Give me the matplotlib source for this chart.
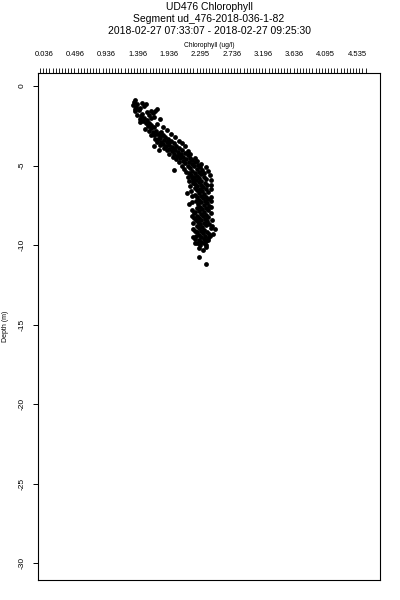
import numpy as np
import matplotlib
matplotlib.use("Agg")
import matplotlib.pyplot as plt
from matplotlib.ticker import FixedLocator, FixedFormatter, NullFormatter

plt.rcParams['font.family'] = ['Liberation Sans', 'DejaVu Sans']

title_lines = ["UD476 Chlorophyll",
               "Segment ud_476-2018-036-1-82",
               "2018-02-27 07:33:07 - 2018-02-27 09:25:30"]
x_label = "Chlorophyll (ug/l)"
y_label = "Depth (m)"

# top axis labels as printed on the plot
x_tick_vals = [0.036, 0.486, 0.936, 1.386, 1.836, 2.286, 2.736, 3.186, 3.636, 4.086, 4.536]
x_tick_text = ["0.036", "0.496", "0.936", "1.396", "1.936", "2.295",
               "2.736", "3.196", "3.636", "4.095", "4.535"]
y_ticks = [0, -5, -10, -15, -20, -25, -30]

# samples (depth m, chlorophyll ug/l)
depth_a = [-0.9, -1.0, -1.1, -1.2, -1.3, -1.35, -1.45, -1.5, -1.55, -1.6, -1.45, -1.7,
           -1.75, -1.8, -1.9, -2.0, -2.05, -2.15, -2.2, -2.3, -2.35, -2.45, -2.5, -2.6,
           -2.7, -2.65]
chl_a = [1.35, 1.33, 1.38, 1.31, 1.36, 1.42, 1.34, 1.40, 1.58, 1.63, 1.66, 1.60,
         1.45, 1.38, 1.43, 1.48, 1.41, 1.52, 1.46, 1.55, 1.50, 1.58, 1.53, 1.62,
         1.49, 1.57]

depth_b = [-2.8, -2.9, -2.95, -3.0, -3.1, -3.1, -3.2, -3.25, -3.3, -3.35, -3.4, -3.45,
           -3.5, -3.55, -3.6, -3.65, -3.7, -3.75, -3.8, -3.85, -3.9, -3.95, -4.0, -4.0,
           -4.05, -4.1, -4.15, -4.2, -4.25, -4.3, -4.35, -4.4, -4.45, -4.5, -4.55, -4.6,
           -4.65, -4.7]
chl_b = [1.65, 1.60, 1.70, 1.66, 1.74, 1.62, 1.78, 1.70, 1.82, 1.67, 1.76, 1.86,
         1.72, 1.80, 1.90, 1.75, 1.84, 1.94, 1.79, 1.88, 1.98, 1.83, 1.69, 1.92,
         2.02, 1.87, 1.96, 2.06, 1.91, 2.00, 2.10, 1.95, 2.04, 2.13, 1.99, 2.08,
         2.17, 2.03]

depth_c = [-4.75, -4.8, -4.85, -4.9, -4.95, -5.0, -5.05, -5.1, -5.15, -5.2, -5.3, -5.25,
           -5.35, -5.4, -5.45, -5.5, -5.55, -5.6, -5.65, -5.7, -5.75, -5.8, -5.85, -5.9,
           -5.95, -6.0, -6.05, -6.1, -6.15, -6.2, -6.25, -6.3, -6.35, -6.4, -6.45, -6.5]
chl_c = [2.12, 2.21, 2.07, 2.16, 2.25, 2.10, 2.19, 2.28, 2.14, 2.23, 1.90, 2.31,
         2.17, 2.26, 2.34, 2.20, 2.29, 2.15, 2.24, 2.33, 2.19, 2.27, 2.36, 2.22,
         2.30, 2.18, 2.26, 2.35, 2.21, 2.29, 2.38, 2.24, 2.32, 2.20, 2.28, 2.36]

depth_d = [-6.55, -6.6, -6.7, -6.65, -6.75, -6.8, -6.85, -6.9, -6.95, -7.0, -7.05, -7.1,
           -7.15, -7.2, -7.25, -7.3, -7.35, -7.4, -7.45, -7.5, -7.55, -7.6, -7.65, -7.7,
           -7.75, -7.8, -7.85, -7.9, -7.95, -8.0, -8.05, -8.1, -8.15, -8.2, -8.25, -8.3,
           -8.35, -8.4, -8.45, -8.5, -8.55, -8.6, -8.65, -8.7, -8.75, -8.8, -8.85, -8.9,
           -8.95, -9.0, -9.0, -9.05, -9.1, -9.15, -9.2, -9.25, -9.3, -9.35, -9.4, -9.45,
           -9.5, -9.55, -9.6, -9.65, -9.7, -9.75, -9.8, -9.85, -9.9, -10.0, -10.1, -10.3,
           -10.75, -11.2]
chl_d = [2.23, 2.31, 2.09, 2.39, 2.26, 2.34, 2.21, 2.29, 2.37, 2.24, 2.32, 2.40,
         2.27, 2.35, 2.22, 2.30, 2.38, 2.12, 2.25, 2.33, 2.41, 2.28, 2.36, 2.23,
         2.31, 2.39, 2.26, 2.34, 2.20, 2.19, 2.29, 2.37, 2.24, 2.32, 2.40, 2.27,
         2.35, 2.22, 2.30, 2.38, 2.25, 2.33, 2.41, 2.28, 2.36, 2.23, 2.31, 2.44,
         2.26, 2.18, 2.49, 2.34, 2.29, 2.38, 2.24, 2.32, 2.41, 2.27, 2.35, 2.22,
         2.30, 2.39, 2.21, 2.33, 2.26, 2.36, 2.29, 2.24, 2.34, 2.28, 2.37, 2.32,
         2.26, 2.36]

# edge points of the cloud
depth_e = [-1.05, -1.25, -1.6, -1.65, -1.95, -2.1, -2.25, -2.4, -2.55, -1.15, -1.85, -2.0,
           -2.75, -2.85, -3.0, -3.05, -3.2, -3.3, -3.45, -3.5, -3.6, -3.7, -3.8, -3.9,
           -4.05, -4.1, -4.25, -4.3, -4.45, -4.5, -4.6, -4.7, -3.15, -3.55, -3.95, -4.35,
           -2.9, -3.75,
           -4.8, -4.9, -5.0, -5.1, -5.2, -5.35, -5.4, -5.6, -5.7, -5.9, -6.0, -6.2,
           -6.3, -6.45, -5.5, -5.8, -6.1,
           -6.6, -6.9, -7.0, -7.3, -7.6, -7.8, -8.0, -8.2, -8.4, -8.6, -8.8, -9.1,
           -9.3, -9.5, -9.7, -9.9, -10.0, -10.2, -9.4, -8.3, -7.2]
chl_e = [1.45, 1.48, 1.35, 1.52, 1.62, 1.70, 1.42, 1.66, 1.74, 1.50, 1.55, 1.58,
         1.80, 1.55, 1.86, 1.58, 1.92, 1.63, 1.97, 1.66, 2.02, 1.70, 2.06, 1.76,
         1.80, 2.10, 1.84, 2.14, 1.89, 2.20, 1.94, 2.24, 1.70, 1.84, 1.90, 1.98,
         1.72, 1.62,
         1.98, 2.30, 2.02, 2.36, 2.05, 2.40, 2.08, 2.42, 2.10, 2.43, 2.12, 2.44,
         2.14, 2.44, 2.12, 2.16, 2.18,
         2.15, 2.16, 2.44, 2.17, 2.44, 2.17, 2.44, 2.16, 2.45, 2.18, 2.45, 2.20,
         2.46, 2.18, 2.40, 2.20, 2.36, 2.26, 2.42, 2.19, 2.43]

depth = depth_a + depth_b + depth_c + depth_d + depth_e
chl = chl_a + chl_b + chl_c + chl_d + chl_e

fig = plt.figure(figsize=(4, 6), dpi=100)
ax = fig.add_axes([0.095, 0.0333, 0.855, 0.845])

ax.scatter(chl, depth, s=12, c="black", marker="o", linewidths=0)

ax.set_xlim(-0.050, 4.866)
ax.set_ylim(-31.07, 0.82)

# top axis: dense small ticks, labels floating above
ax.xaxis.tick_top()
ax.xaxis.remove_overlapping_locs = False
ax.xaxis.set_major_locator(FixedLocator(np.arange(-0.021, 4.70, 0.045)))
ax.xaxis.set_major_formatter(NullFormatter())
ax.xaxis.set_minor_locator(FixedLocator(x_tick_vals))
ax.xaxis.set_minor_formatter(FixedFormatter(x_tick_text))
ax.tick_params(axis="x", which="major", length=3.5, width=0.6, direction="out")
ax.tick_params(axis="x", which="minor", length=0, pad=11, labelsize=5.5)
ax.set_xlabel(x_label, fontsize=4.8, labelpad=3)
ax.xaxis.set_label_position("top")

ax.set_yticks(y_ticks)
ax.set_yticklabels([str(v) for v in y_ticks], rotation=90, va="center", fontsize=6)
ax.tick_params(axis="y", length=3.8, width=0.7, pad=5)
ax.set_ylabel(y_label, fontsize=5, labelpad=7)

for sp in ax.spines.values():
    sp.set_linewidth(0.8)

fig.text(0.5225, 1 - 7.5 / 600, title_lines[0], ha="center", va="center", fontsize=7.5)
fig.text(0.5225, 1 - 19 / 600, title_lines[1], ha="center", va="center", fontsize=7.5)
fig.text(0.5225, 1 - 30.5 / 600, title_lines[2], ha="center", va="center", fontsize=7.5)

fig.savefig("out.png", dpi=100)
